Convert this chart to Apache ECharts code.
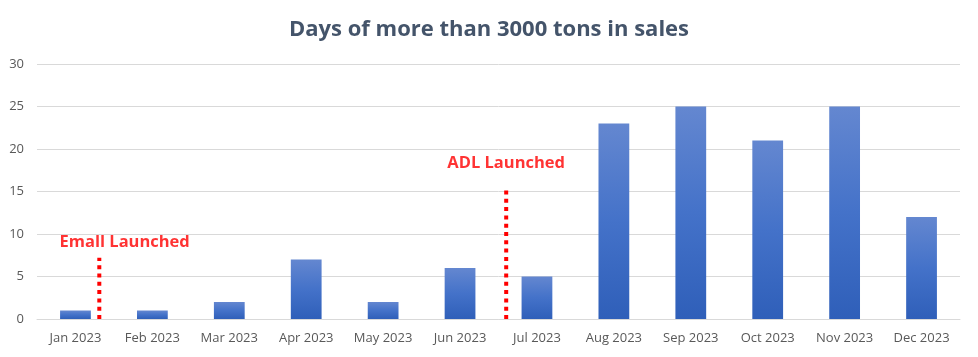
<!DOCTYPE html>
<html>
<head>
<meta charset="utf-8">
<script src="https://cdn.jsdelivr.net/npm/echarts@6/dist/echarts.min.js"></script>
<style>html,body{margin:0;padding:0;background:#fff}#c{width:978px;height:357px}</style>
</head>
<body>
<div id="c"></div>
<script>
const categories = ['Jan 2023','Feb 2023','Mar 2023','Apr 2023','May 2023','Jun 2023','Jul 2023','Aug 2023','Sep 2023','Oct 2023','Nov 2023','Dec 2023'];
const days = [1, 1, 2, 7, 2, 6, 5, 23, 25, 21, 25, 12];
const yTicks = {min: 0, max: 30, interval: 5};
// annotation markers: position on the category scale (index units) and height in value units
const emallLine = [[0.31, 0], [0.31, 7.2]];
const adlLine = [[5.6, 0], [5.6, 15.5]];
const annotationLabels = [
  {name: 'Emall Launched', value: [0.64, 9.0]},
  {name: 'ADL Launched', value: [5.6, 18.3]}
];

const chart = echarts.init(document.getElementById('c'));
const font = '"Open Sans", "Noto Sans", sans-serif';
chart.setOption({
  animation: false,
  title: {
    text: 'Days of more than 3000 tons in sales',
    left: 'center', top: 14,
    textStyle: {fontFamily: font, fontSize: 22, fontWeight: 'bold', color: '#44546A'}
  },
  grid: {left: 37, right: 18, top: 64, bottom: 38, containLabel: false},
  xAxis: [{
    type: 'category', data: categories,
    axisLine: {show: true, lineStyle: {color: '#D9D9D9'}},
    axisTick: {show: false},
    axisLabel: {fontFamily: font, fontSize: 13, color: '#595959', margin: 13}
  }, {
    type: 'value', min: -0.5, max: 11.5, show: false
  }],
  yAxis: {
    type: 'value', min: yTicks.min, max: yTicks.max, interval: yTicks.interval,
    axisLine: {show: false}, axisTick: {show: false},
    splitLine: {lineStyle: {color: '#D9D9D9'}},
    axisLabel: {fontFamily: font, fontSize: 13, color: '#595959', margin: 13}
  },
  series: [{
    type: 'bar', data: days, barWidth: '40%', xAxisIndex: 0,
    itemStyle: {
      color: new echarts.graphic.LinearGradient(0, 0, 0, 1, [
        {offset: 0, color: '#6487D0'},
        {offset: 0.5, color: '#4472C9'},
        {offset: 1, color: '#2F5FB9'}
      ])
    }
  }, {
    type: 'line', xAxisIndex: 1, data: emallLine, symbol: 'none',
    lineStyle: {color: '#FF0000', width: 4, type: [4, 4.3], cap: 'butt'}
  }, {
    type: 'line', xAxisIndex: 1, data: adlLine, symbol: 'none',
    lineStyle: {color: '#FF0000', width: 4, type: [4, 4.3], cap: 'butt'}
  }, {
    type: 'scatter', xAxisIndex: 1, symbolSize: 0, data: annotationLabels,
    label: {show: true, position: 'inside', formatter: '{b}', fontFamily: font, fontSize: 16.5, fontWeight: 'bold', color: '#FF0000'}
  }]
});
</script>
</body>
</html>
